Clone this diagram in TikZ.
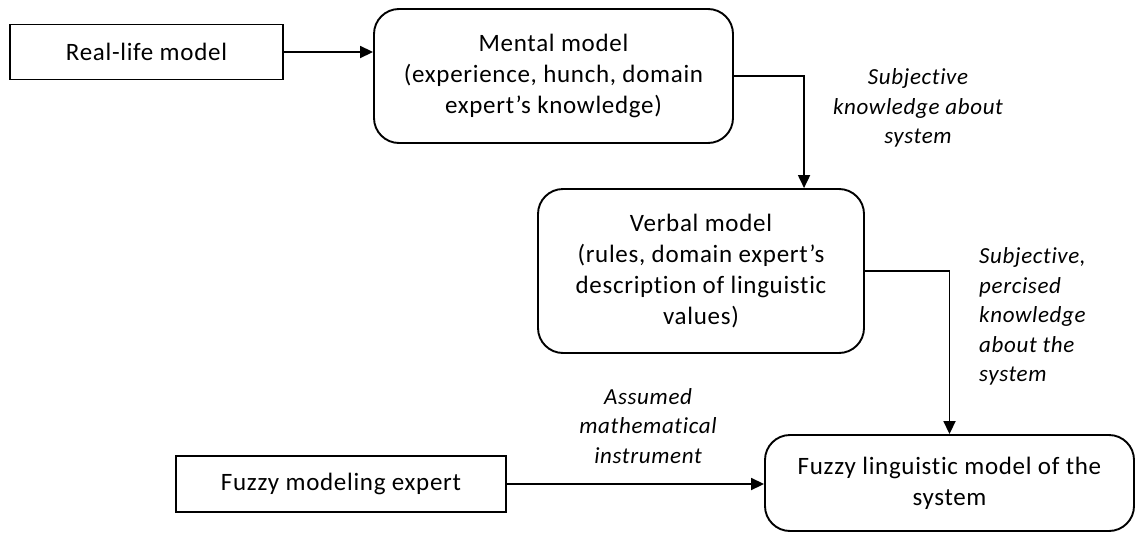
\documentclass[tikz,border=0pt]{standalone}
\usepackage{fontspec}
\setmainfont{Carlito}[LetterSpace=2.8,RawFeature={-liga;-dlig;-clig}]
\usetikzlibrary{arrows.meta}
\begin{document}
\begin{tikzpicture}[x=1pt,y=-1pt,
  sqbox/.style={draw, line width=1.9pt, inner sep=0pt, align=center,
    font=\fontsize{25}{31}\selectfont},
  rbox/.style={sqbox, rounded corners=25pt},
  lbl/.style={inner sep=0pt, font=\fontsize{23}{29.5}\selectfont\itshape},
  conn/.style={line width=1.8pt, -{Triangle[length=13pt,width=12pt]}}]
\useasboundingbox (0,0) rectangle (1136,533);
\node[sqbox, minimum width=273pt, minimum height=55pt] (real) at (146.5,52) {Real-life model};
\node[rbox, minimum width=359pt, minimum height=134pt] (mental) at (553.5,76) {Mental model\\(experience, hunch, domain\\expert’s knowledge)};
\node[rbox, minimum width=326pt, minimum height=164pt] (verbal) at (701,271) {Verbal model\\(rules, domain expert’s\\description of linguistic\\values)};
\node[sqbox, minimum width=330pt, minimum height=56pt] (fexp) at (341,484) {Fuzzy modeling expert};
\node[rbox, minimum width=369pt, minimum height=96pt] (fling) at (949.5,483) {Fuzzy linguistic model of the\\system};
\node[lbl, align=center] (l1) at (918,108) {Subjective\\knowledge about\\system};
\node[lbl, align=left, anchor=west] (l2) at (979,316.5) {Subjective,\\percised\\knowledge\\about the\\system};
\node[lbl, align=center] (l3) at (648,426) {Assumed\\mathematical\\instrument};
\coordinate (vtop) at ([xshift=267pt]verbal.north west);
\draw[conn] (real.east) -- (real.east -| mental.west);
\draw[conn] (mental.east) -| (vtop);
\draw[conn] (verbal.east) -| (fling.north);
\draw[conn] (fexp.east) -- (fexp.east -| fling.west);
\end{tikzpicture}
\end{document}
